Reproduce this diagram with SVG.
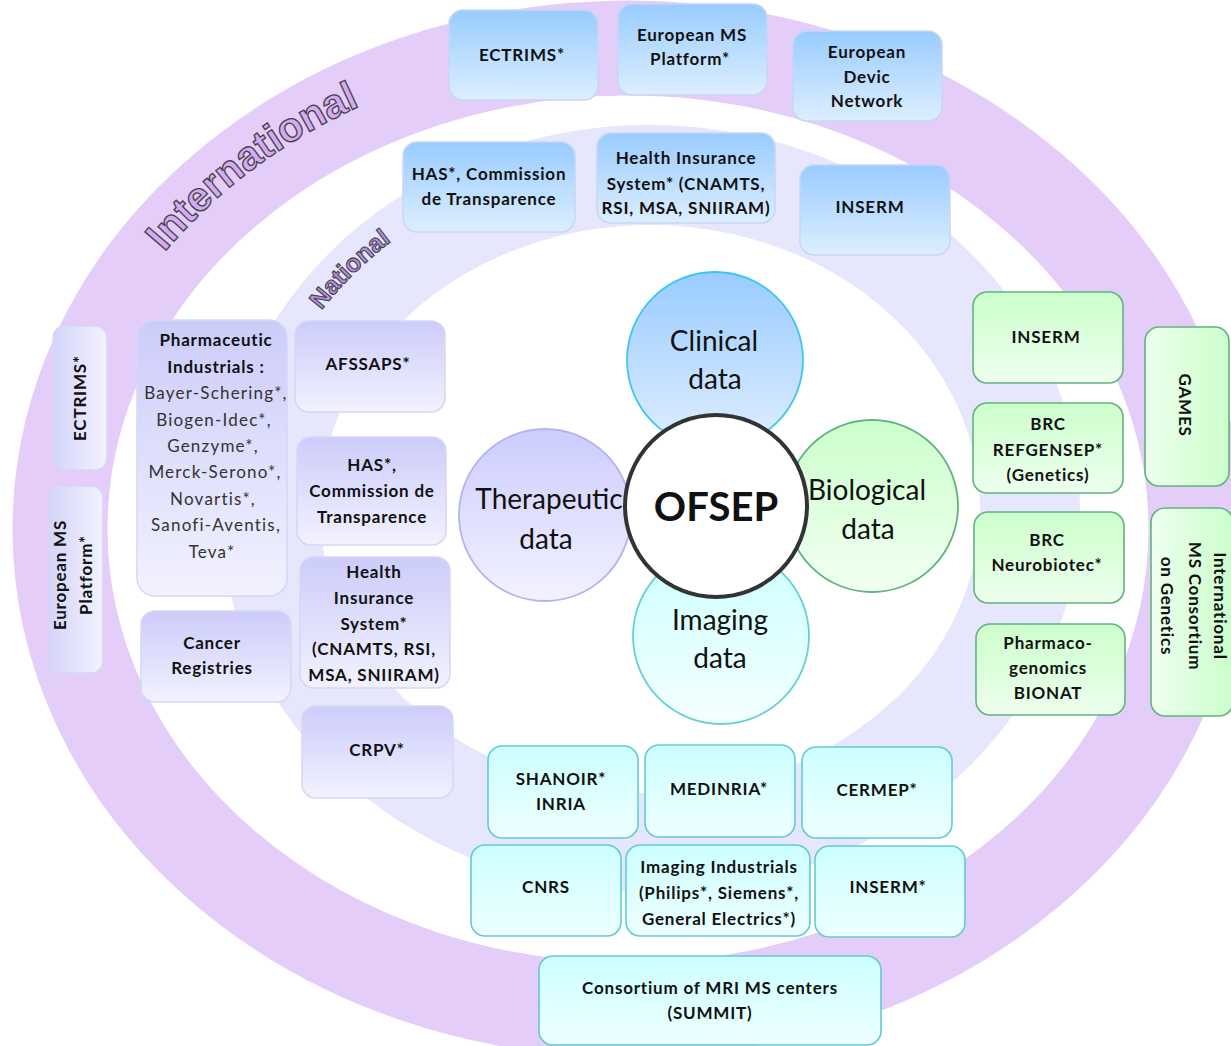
<svg xmlns="http://www.w3.org/2000/svg" width="1231" height="1046" viewBox="0 0 1231 1046">
<defs>
<linearGradient id="gBlue" x1="0" y1="0" x2="0" y2="1"><stop offset="0" stop-color="#99CCFF"/><stop offset="1" stop-color="#DDEEFF"/></linearGradient>
<linearGradient id="gPur" x1="0" y1="0" x2="0" y2="1"><stop offset="0" stop-color="#CCCCFA"/><stop offset="1" stop-color="#F2F2FF"/></linearGradient>
<linearGradient id="gPurH" x1="0" y1="0" x2="1" y2="0"><stop offset="0" stop-color="#D4D4FA"/><stop offset="1" stop-color="#F2F2FF"/></linearGradient>
<linearGradient id="gGrn" x1="0" y1="0" x2="0" y2="1"><stop offset="0" stop-color="#CCFFCC"/><stop offset="1" stop-color="#EEFFEE"/></linearGradient>
<linearGradient id="gGrnH" x1="1" y1="0" x2="0" y2="0"><stop offset="0" stop-color="#CCFFCC"/><stop offset="1" stop-color="#EEFFEE"/></linearGradient>
<linearGradient id="gCyan" x1="0" y1="0" x2="0" y2="1"><stop offset="0" stop-color="#CCFFFF"/><stop offset="1" stop-color="#EEFFFF"/></linearGradient>
<linearGradient id="cBlue" x1="0" y1="0" x2="0" y2="1"><stop offset="0" stop-color="#99CCFF"/><stop offset="1" stop-color="#E0EEFF"/></linearGradient>
<linearGradient id="cPur" x1="0" y1="0" x2="0" y2="1"><stop offset="0" stop-color="#CCCCFF"/><stop offset="1" stop-color="#F2F2FF"/></linearGradient>
<linearGradient id="cGrn" x1="0" y1="0" x2="0" y2="1"><stop offset="0" stop-color="#CCFFCC"/><stop offset="1" stop-color="#F2FFF2"/></linearGradient>
<linearGradient id="cCyan" x1="0" y1="0" x2="0" y2="1"><stop offset="0" stop-color="#CCFFFF"/><stop offset="1" stop-color="#F4FFFF"/></linearGradient>
<path id="arcIntl" d="M61.3,545.8 A567,480 0 0 1 706.9,53.7" fill="none"/>
<path id="arcNat" d="M260.7,435.8 A398,352 0 0 1 527,174.2" fill="none"/>
</defs>
<style>
.t{font-family:Lato,"Noto Sans",sans-serif;font-weight:700;font-size:17px;letter-spacing:0.8px;fill:#111;text-anchor:middle}
.r{font-weight:400;fill:#333;font-size:17px;letter-spacing:1.2px}
.c{font-family:Lato,"Noto Sans",sans-serif;font-size:28px;fill:#111;text-anchor:middle}
.ring{font-family:"Liberation Sans",Arial,sans-serif;font-weight:700;stroke:#444;stroke-width:1.3px}
.bb{fill:url(#gBlue);stroke:#C8D6F6;stroke-width:1.5}
.bp{fill:url(#gPur);stroke:#D6D6F6;stroke-width:1.5}
.bph{fill:url(#gPurH);stroke:#D6D6F6;stroke-width:1.5}
.bg{fill:url(#gGrn);stroke:#62B47E;stroke-width:1.6}
.bgh{fill:url(#gGrnH);stroke:#62B47E;stroke-width:1.6}
.bc{fill:url(#gCyan);stroke:#62CCD2;stroke-width:1.6}
</style>
<rect width="1231" height="1046" fill="#FFFFFF"/>
<g id="rings">
<ellipse cx="628" cy="529" rx="568" ry="481" fill="none" stroke="#E5CDFA" stroke-width="95"/>
<ellipse cx="650" cy="509" rx="380" ry="334" fill="none" stroke="#E6E6FC" stroke-width="100"/>
<text class="ring" font-size="41" fill="#D6A9F6"><textPath href="#arcIntl" startOffset="48%" text-anchor="middle">International</textPath></text>
<text class="ring" font-size="25" fill="#B58CE6" style="stroke-width:1.1px"><textPath href="#arcNat" startOffset="48.5%" text-anchor="middle">National</textPath></text>
</g>
<g id="connectors"></g>
<g id="ectrims-top"><rect class="bb" x="449" y="10" width="149" height="90" rx="14"/><text class="t" x="522" y="61">ECTRIMS*</text></g>
<g id="emsp-top"><rect class="bb" x="618" y="4" width="149" height="91" rx="14"/><text class="t" x="692" y="41">European MS</text><text class="t" x="690" y="65">Platform*</text></g>
<g id="devic"><rect class="bb" x="793" y="31" width="149" height="90" rx="14"/><text class="t" x="867" y="58">European</text><text class="t" x="867" y="83">Devic</text><text class="t" x="867" y="107">Network</text></g>
<g id="has-top"><rect class="bb" x="403" y="142" width="172" height="90" rx="14"/><text class="t" x="489" y="180">HAS*, Commission</text><text class="t" x="489" y="205">de Transparence</text></g>
<g id="his-top"><rect class="bb" x="597" y="133" width="178" height="90" rx="14"/><text class="t" x="686" y="164">Health Insurance</text><text class="t" x="686" y="190">System* (CNAMTS,</text><text class="t" x="686" y="214">RSI, MSA, SNIIRAM)</text></g>
<g id="inserm-top"><rect class="bb" x="800" y="165" width="150" height="90" rx="14"/><text class="t" x="870" y="213">INSERM</text></g>
<g id="ectrims-left"><rect class="bph" x="53" y="326" width="54" height="144" rx="12"/><text class="t" transform="translate(86,398) rotate(-90)">ECTRIMS*</text></g>
<g id="emsp-left"><rect class="bph" x="48" y="486" width="55" height="187" rx="12"/><text class="t" transform="translate(66,575) rotate(-90)">European MS</text><text class="t" transform="translate(92,575) rotate(-90)">Platform*</text></g>
<g id="pharma"><rect class="bp" x="137" y="320" width="150" height="276" rx="18"/><text class="t" x="216" y="346">Pharmaceutic</text><text class="t" x="216" y="373">Industrials :</text><text class="t r" x="216" y="399">Bayer-Schering*,</text><text class="t r" x="214" y="426">Biogen-Idec*,</text><text class="t r" x="213" y="452">Genzyme*,</text><text class="t r" x="215" y="478">Merck-Serono*,</text><text class="t r" x="213" y="505">Novartis*,</text><text class="t r" x="216" y="531">Sanofi-Aventis,</text><text class="t r" x="212" y="558">Teva*</text></g>
<g id="cancer"><rect class="bp" x="141" y="611" width="150" height="91" rx="14"/><text class="t" x="212" y="649">Cancer</text><text class="t" x="212" y="674">Registries</text></g>
<g id="afssaps"><rect class="bp" x="295" y="321" width="150" height="91" rx="14"/><text class="t" x="368" y="370">AFSSAPS*</text></g>
<g id="has-left"><rect class="bp" x="297" y="437" width="149" height="108" rx="14"/><text class="t" x="372" y="471">HAS*,</text><text class="t" x="372" y="497">Commission de</text><text class="t" x="372" y="523">Transparence</text></g>
<g id="his-left"><rect class="bp" x="300" y="557" width="150" height="131" rx="14"/><text class="t" x="374" y="578">Health</text><text class="t" x="374" y="604">Insurance</text><text class="t" x="374" y="630">System*</text><text class="t" x="374" y="655">(CNAMTS, RSI,</text><text class="t" x="374" y="681">MSA, SNIIRAM)</text></g>
<g id="crpv"><rect class="bp" x="302" y="706" width="151" height="92" rx="14"/><text class="t" x="377" y="756">CRPV*</text></g>
<g id="inserm-bio"><rect class="bg" x="973" y="292" width="150" height="91" rx="14"/><text class="t" x="1046" y="343">INSERM</text></g>
<g id="brc-ref"><rect class="bg" x="973" y="403" width="150" height="90" rx="14"/><text class="t" x="1048" y="430">BRC</text><text class="t" x="1048" y="456">REFGENSEP*</text><text class="t" x="1048" y="481">(Genetics)</text></g>
<g id="brc-neuro"><rect class="bg" x="974" y="512" width="150" height="91" rx="14"/><text class="t" x="1047" y="546">BRC</text><text class="t" x="1047" y="571">Neurobiotec*</text></g>
<g id="pharmaco"><rect class="bg" x="976" y="624" width="149" height="91" rx="14"/><text class="t" x="1048" y="649">Pharmaco-</text><text class="t" x="1048" y="674">genomics</text><text class="t" x="1048" y="699">BIONAT</text></g>
<g id="games"><rect class="bgh" x="1145" y="327" width="84" height="159" rx="14"/><text class="t" transform="translate(1179,405) rotate(90)">GAMES</text></g>
<g id="imsgc"><rect class="bgh" x="1151" y="508" width="82" height="208" rx="14"/><text class="t" transform="translate(1214,606) rotate(90)">International</text><text class="t" transform="translate(1189,606) rotate(90)">MS Consortium</text><text class="t" transform="translate(1161,606) rotate(90)">on Genetics</text></g>
<g id="shanoir"><rect class="bc" x="488" y="746" width="150" height="92" rx="14"/><text class="t" x="561" y="785">SHANOIR*</text><text class="t" x="561" y="810">INRIA</text></g>
<g id="medinria"><rect class="bc" x="645" y="745" width="150" height="92" rx="14"/><text class="t" x="719" y="795">MEDINRIA*</text></g>
<g id="cermep"><rect class="bc" x="802" y="747" width="150" height="91" rx="14"/><text class="t" x="877" y="796">CERMEP*</text></g>
<g id="cnrs"><rect class="bc" x="471" y="845" width="150" height="91" rx="14"/><text class="t" x="546" y="893">CNRS</text></g>
<g id="imgind"><rect class="bc" x="626" y="845" width="184" height="91" rx="14"/><text class="t" x="719" y="873">Imaging Industrials</text><text class="t" x="719" y="899">(Philips*, Siemens*,</text><text class="t" x="719" y="925">General Electrics*)</text></g>
<g id="inserm-img"><rect class="bc" x="815" y="846" width="150" height="91" rx="14"/><text class="t" x="888" y="893">INSERM*</text></g>
<g id="summit"><rect class="bc" x="539" y="956" width="342" height="89" rx="14"/><text class="t" x="710" y="994">Consortium of MRI MS centers</text><text class="t" x="710" y="1019">(SUMMIT)</text></g>
<g id="clinical"><circle cx="715" cy="360" r="88" fill="url(#cBlue)" stroke="#3EC6F2" stroke-width="1.8"/><text class="c" x="714" y="351">Clinical</text><text class="c" x="715" y="389">data</text></g>
<g id="therapeutic"><circle cx="545" cy="515" r="86" fill="url(#cPur)" stroke="#B3B3F0" stroke-width="1.8"/><text class="c" x="549" y="509">Therapeutic</text><text class="c" x="546" y="549">data</text></g>
<g id="biological"><circle cx="872" cy="506" r="86" fill="url(#cGrn)" stroke="#62B47E" stroke-width="1.8"/><text class="c" x="867" y="500">Biological</text><text class="c" x="868" y="539">data</text></g>
<g id="imaging"><circle cx="721" cy="636" r="88" fill="url(#cCyan)" stroke="#66D0D2" stroke-width="1.8"/><text class="c" x="720" y="630">Imaging</text><text class="c" x="720" y="668">data</text></g>
<g id="ofsep"><circle cx="716" cy="506" r="91" fill="#FFFFFF" stroke="#333333" stroke-width="4"/><text class="c" x="716" y="521" style="font-size:40px;font-weight:700">OFSEP</text></g>
</svg>
